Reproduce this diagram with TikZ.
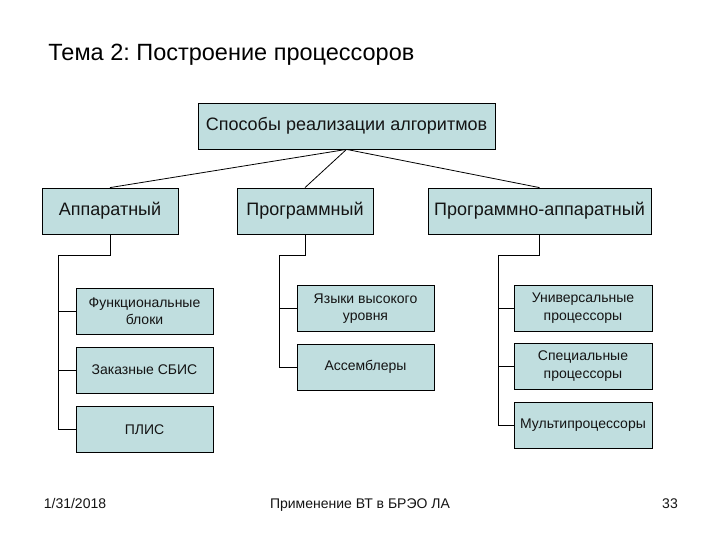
\documentclass[tikz,border=0pt]{standalone}
\usepackage{fontspec}
\setmainfont{Liberation Sans}
\frenchspacing
\definecolor{boxfill}{RGB}{192,222,223}
\definecolor{txtgray}{RGB}{20,20,20}

\begin{document}
\begin{tikzpicture}[x=1pt, y=-1pt, line width=0.8pt,
  blk/.style={draw=black, fill=boxfill, text=txtgray, align=center,
    inner sep=0pt, minimum height=46pt},
  big/.style={blk, font=\fontsize{18}{21}\selectfont},
  small/.style={blk, font=\fontsize{14}{17.5}\selectfont, minimum width=137pt},
  foot/.style={anchor=base, font=\fontsize{14}{16}\selectfont, text=txtgray}]
  \useasboundingbox (0,0) rectangle (720,540);
  % заголовок
  \node[anchor=base west, inner sep=0pt, font=\fontsize{23.5}{28}\selectfont] (title) at (48,61)
    {Тема 2: Построение процессоров};
  % верхний уровень
  \node[big, minimum width=297pt] (top) at (346.5,126) {Способы реализации алгоритмов};
  \node[big, minimum width=136pt] (hw) at (110,211) {Аппаратный};
  \node[big, minimum width=136pt] (sw) at (305,211) {Программный};
  \node[big, minimum width=223pt] (hs) at (539.5,211) {Программно-аппаратный};
  \foreach \k in {hw, sw, hs}
    \draw (top.south) -- (\k.north);
  % аппаратный
  \node[small] (fb) at (144.5,311) {Функциональные\\блоки};
  \node[small] (sbis) at (144.5,370) {Заказные СБИС};
  \node[small] (plis) at (144.5,429.5) {ПЛИС};
  \coordinate (hwbus) at (58,255);
  \draw (hw.south) |- (hwbus);
  \foreach \k in {fb, sbis, plis}
    \draw (hwbus) |- (\k.west);
  % программный
  \node[small] (hll) at (365.5,308.5) {Языки высокого\\уровня};
  \node[small] (asm) at (365.5,367) {Ассемблеры};
  \coordinate (swbus) at (279,255);
  \draw (sw.south) |- (swbus);
  \foreach \k in {hll, asm}
    \draw (swbus) |- (\k.west);
  % программно-аппаратный
  \node[small, minimum width=138pt] (up) at (583,308) {Универсальные\\процессоры};
  \node[small, minimum width=138pt] (spp) at (583,366) {Специальные\\процессоры};
  \node[small, minimum width=138pt] (mp) at (583,425) {Мультипроцессоры};
  \coordinate (hsbus) at (498,255);
  \draw (hs.south) |- (hsbus);
  \foreach \k in {up, spp, mp}
    \draw (hsbus) |- (\k.west);
  % нижний колонтитул
  \node[foot] (date) at (75,508) {1/31/2018};
  \node[foot] (course) at (360,508) {Применение ВТ в БРЭО ЛА};
  \node[foot] (page) at (670,508) {33};
\end{tikzpicture}
\end{document}
